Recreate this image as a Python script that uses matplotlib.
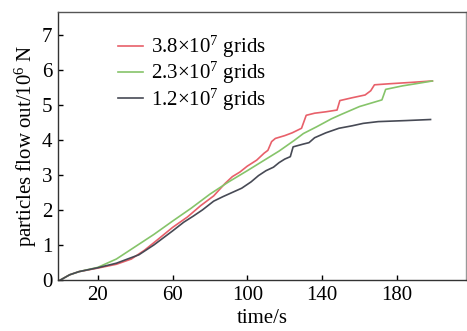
import matplotlib
matplotlib.use("Agg")
import matplotlib.pyplot as plt

plt.rcParams['font.family'] = ['Liberation Serif', 'DejaVu Serif']
plt.rcParams['mathtext.fontset'] = 'custom'
plt.rcParams['mathtext.rm'] = 'Liberation Serif'
plt.rcParams['mathtext.it'] = 'Liberation Serif:italic'

# 3.8e7 grids
t_fine = [0, 5, 10, 20, 30, 38, 45, 52, 60, 68, 75, 82, 88, 92, 96, 100, 105, 109, 111, 113,
          115, 120, 124, 129, 131.5, 136, 142, 148, 149.5, 156, 163, 166, 168, 176, 188, 199]
n_fine = [0, 0.15, 0.24, 0.34, 0.45, 0.6, 0.85, 1.15, 1.5, 1.8, 2.12, 2.4, 2.75, 2.95, 3.08, 3.25, 3.42, 3.62, 3.7, 3.95,
          4.04, 4.12, 4.2, 4.33, 4.70, 4.76, 4.8, 4.85, 5.12, 5.2, 5.28, 5.40, 5.57, 5.60, 5.64, 5.68]

# 2.3e7 grids
t_mid = [0, 5, 10, 20, 30, 40, 50, 60, 70, 80, 90, 100, 110, 117, 125, 130, 137, 145, 150, 160,
         172, 174, 183, 190, 199]
n_mid = [0, 0.15, 0.24, 0.36, 0.6, 0.95, 1.3, 1.68, 2.05, 2.45, 2.8, 3.12, 3.45, 3.68, 3.98, 4.18, 4.37, 4.6, 4.72, 4.95,
         5.14, 5.44, 5.54, 5.60, 5.68]

# 1.2e7 grids
t_coarse = [0, 5, 10, 20, 30, 36, 42, 50, 60, 66, 71, 76, 82, 87, 92, 97, 102, 106, 110, 114,
            117, 120, 123, 124.5, 130, 133, 136, 142, 149, 156, 162, 170, 185, 198]
n_coarse = [0, 0.15, 0.24, 0.35, 0.48, 0.6, 0.72, 1.0, 1.4, 1.65, 1.82, 2.0, 2.25, 2.38, 2.5, 2.62, 2.8, 2.98, 3.12, 3.22,
            3.35, 3.45, 3.52, 3.80, 3.88, 3.92, 4.06, 4.2, 4.33, 4.40, 4.47, 4.52, 4.55, 4.58]

labels = [r'3.8$\times$10$^{7}$ grids', r'2.3$\times$10$^{7}$ grids', r'1.2$\times$10$^{7}$ grids']
colors = ['#e8606a', '#86c46a', '#474a55']

fig = plt.figure(figsize=(4.67, 3.31), dpi=100)
ax = fig.add_axes([0.124, 0.154, 0.874, 0.810])

ax.plot(t_fine, n_fine, color=colors[0], lw=1.2, label=labels[0])
ax.plot(t_mid, n_mid, color=colors[1], lw=1.2, label=labels[1])
ax.plot(t_coarse, n_coarse, color=colors[2], lw=1.2, label=labels[2])

ax.set_xlim(-1.3, 217)
ax.set_ylim(0, 7.65)
ax.set_xticks([20, 60, 100, 140, 180])
ax.set_yticks(range(8))
ax.tick_params(direction='in', length=3.5, labelsize=15, width=1, pad=4)
for s in ax.spines.values():
    s.set_linewidth(1.0)
    s.set_color('#333333')
ax.spines['top'].set_color('#555555')
ax.spines['right'].set_color('#999999')

ax.set_xlabel('time/s', fontsize=15, labelpad=3)
ax.set_ylabel(r'particles flow out/10$^{6}$ N', fontsize=15, labelpad=2)

ax.legend(loc='upper left', bbox_to_anchor=(0.253, 0.897), bbox_transform=fig.transFigure,
          frameon=False, fontsize=15, handlelength=1.2, handletextpad=0.4,
          labelspacing=0.0, borderpad=0, borderaxespad=0)

fig.savefig('out.png', dpi=100)
